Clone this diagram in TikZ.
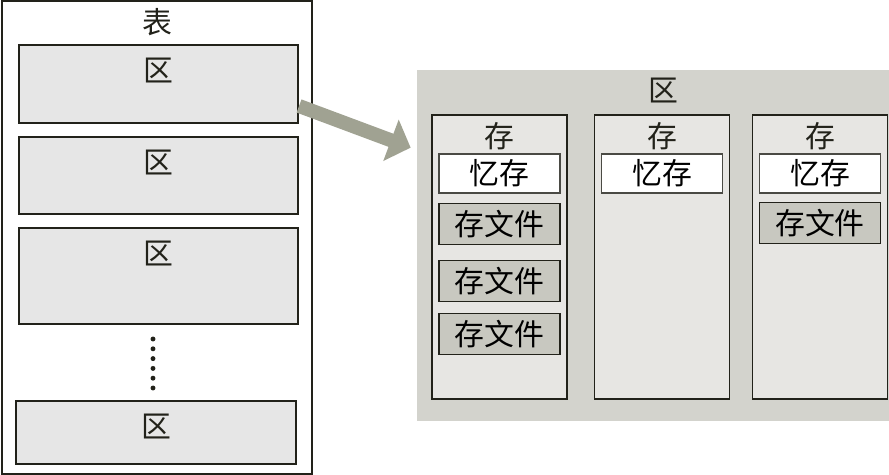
\documentclass[tikz,border=0pt]{standalone}
\usepackage{fontspec}
\setmainfont{Noto Sans CJK SC}
\usetikzlibrary{positioning,arrows.meta,calc}
\definecolor{tinta}{HTML}{22221A}
\definecolor{bloque}{HTML}{E6E6E6}
\definecolor{panel}{HTML}{D3D3CD}
\definecolor{columna}{HTML}{E7E6E3}
\definecolor{archivo}{HTML}{C8C8C0}
\definecolor{gris}{HTML}{4A4A44}
\definecolor{flecha}{HTML}{A0A292}

\begin{document}
\begin{tikzpicture}[font=\fontsize{17}{20}\selectfont, >={Triangle[width=0.86cm, length=0.42cm]},
      reg/.style={draw=tinta, line width=1.2pt, fill=bloque, minimum width=5.58cm},
      col/.style={draw=tinta, line width=0.8pt, fill=columna, minimum width=2.7cm,
                  minimum height=5.68cm},
      mem/.style={draw=gris, line width=0.7pt, fill=white, minimum width=2.42cm,
                  minimum height=0.78cm, inner sep=0pt},
      sfile/.style={draw=tinta, line width=0.7pt, fill=archivo, minimum width=2.42cm,
                  minimum height=0.82cm, inner sep=0pt},
      lbl/.style={inner sep=0pt, text=tinta}]
    \useasboundingbox (0,0) rectangle (17.78,-9.5);
    % table with its regions
    \node[draw=tinta, line width=1.1pt, fill=white, minimum width=6.2cm,
          minimum height=9.46cm] (tbl) at (3.14,-4.75) {};
    \node[lbl, below=0.16cm of tbl.north] (tbltxt) {表};
    \node[reg, minimum height=1.56cm] (reg1) at (3.17,-1.68) {};
    \node[reg, minimum height=1.54cm, below=0.24cm of reg1] (reg2) {};
    \node[reg, minimum height=1.92cm, below=0.24cm of reg2] (reg3) {};
    \node[reg, minimum height=1.26cm, minimum width=5.6cm] (reg4) at (3.12,-8.65) {};
    \foreach \r in {1,...,4}
      \node[lbl, below=0.27cm of reg\r.north] (reg\r txt) {区};
    \foreach \i in {0,...,5}
      \fill[tinta] (3.06,-6.78-0.196*\i) circle (1.4pt);
    % one region, opened up
    \node[fill=panel, minimum width=9.84cm, minimum height=7.02cm] (zone) at (13.26,-4.91) {};
    \node[lbl, below=0.16cm of zone.north] (zonetxt) {区};
    \node[col] (st1) at (9.99,-5.14) {};
    \node[col] (st2) at (13.24,-5.14) {};
    \node[col] (st3) at (16.4,-5.14) {};
    \foreach \c in {1,2,3} {
      \node[lbl, below=0.16cm of st\c.north] (st\c txt) {存};
      \node[mem, below=0.78cm of st\c.north] (mem\c) {忆存};
    }
    \node[sfile, below=0.18cm of mem1] (sf1) {存文件};
    \node[sfile, below=0.3cm of sf1] (sf2) {存文件};
    \node[sfile, below=0.22cm of sf2] (sf3) {存文件};
    \node[sfile, below=0.16cm of mem3] (sf4) {存文件};
    \coordinate (tail) at ([yshift=-0.44cm]reg1.east);
    \coordinate (tip) at ([shift={(-0.12,-1.56)}]zone.north west);
    \draw[->, flecha, line width=0.28cm] (tail) -- (tip);
  \end{tikzpicture}
\end{document}
